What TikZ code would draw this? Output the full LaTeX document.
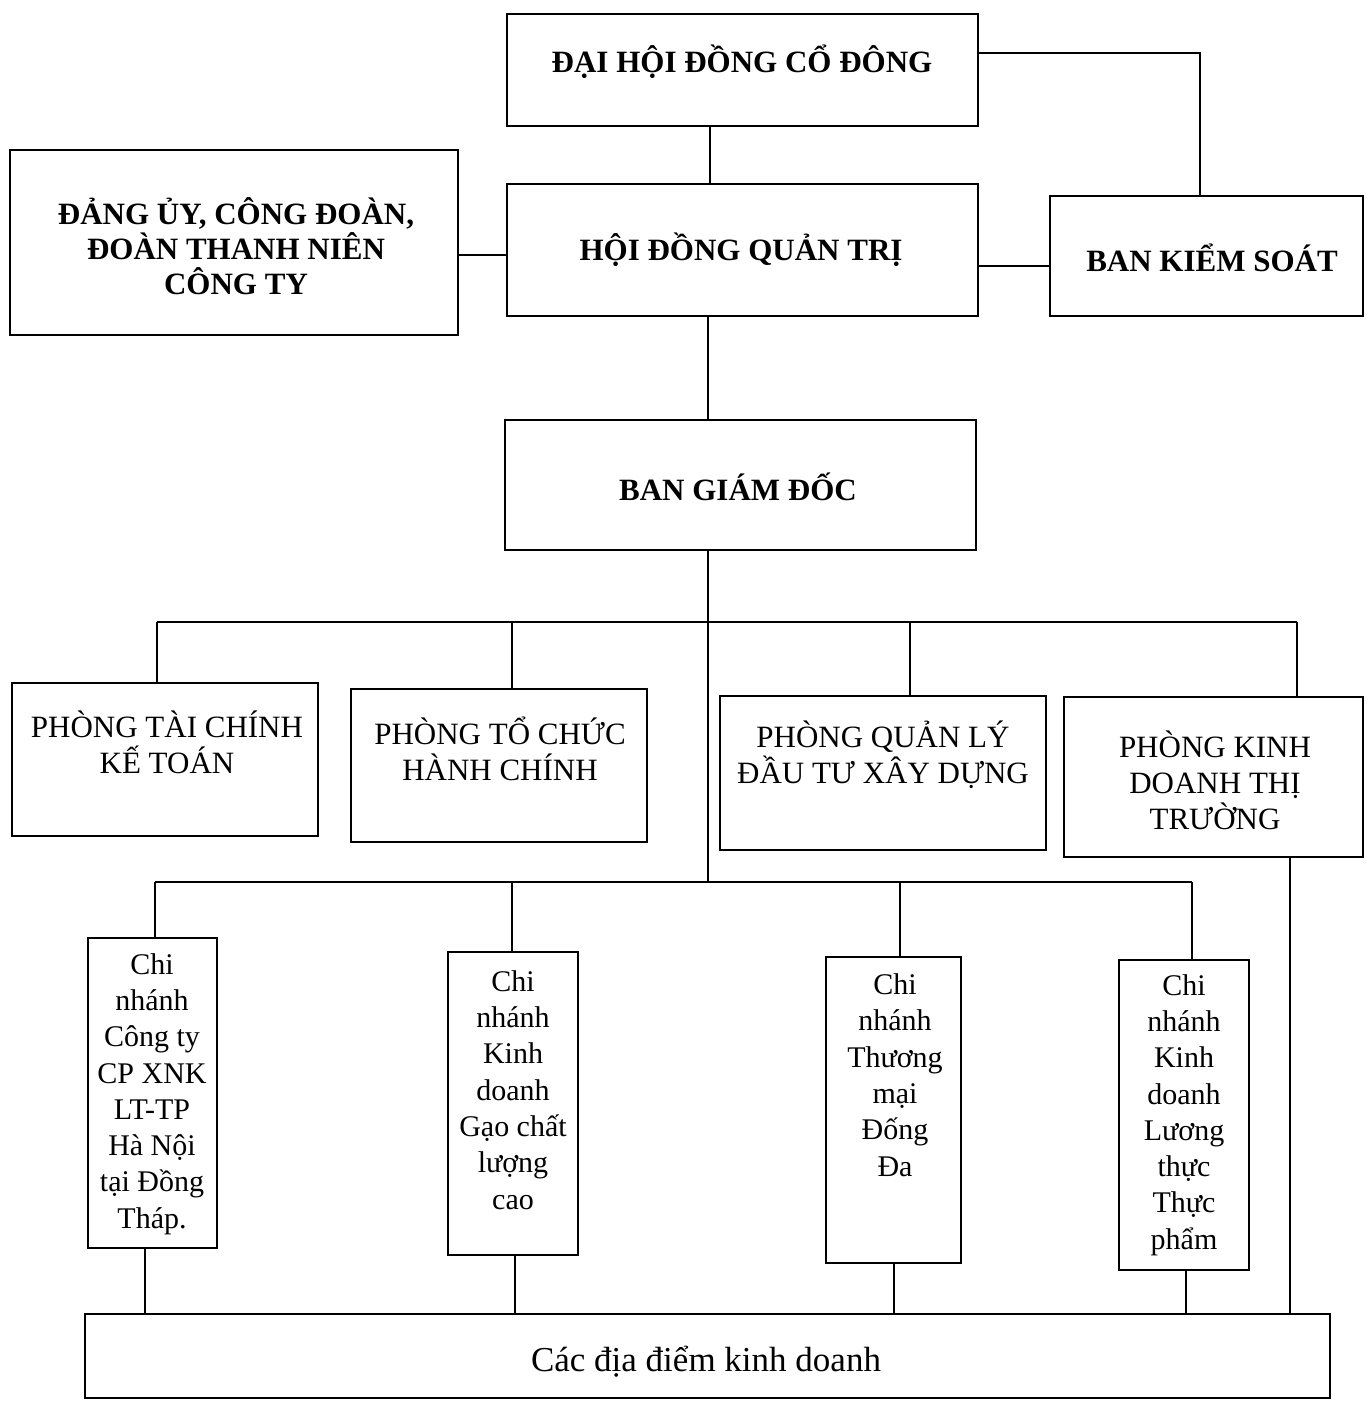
\documentclass[tikz,border=0pt]{standalone}
\usepackage{fontspec}
\setmainfont{Liberation Serif}
\begin{document}
\begin{tikzpicture}[x=1pt,y=-1pt,
  box/.style={draw, line width=1.8pt, outer sep=0pt, inner sep=0pt},
  conn/.style={line width=1.8pt},
  lbl/.style={align=center, inner sep=0pt},
  hb/.style={lbl, font=\fontsize{31}{35}\selectfont\bfseries},
  nf/.style={lbl, font=\fontsize{31}{36}\selectfont},
  cf/.style={lbl, font=\fontsize{30}{36.3}\selectfont}]
\useasboundingbox (0,0) rectangle (1366,1423);
\fill[white] (0,0) rectangle (1366,1423);
\newcommand\mkbox[5]{\node[box, minimum width={#4-#2}, minimum height={#5-#3}] (#1) at ({(#2+#4)/2},{(#3+#5)/2}) {};}
% boxes
\mkbox{dh}{507}{14}{978}{126}
\mkbox{hd}{507}{184}{978}{316}
\mkbox{dang}{10}{150}{458}{335}
\mkbox{bks}{1050}{196}{1363}{316}
\mkbox{bgd}{505}{420}{976}{550}
\mkbox{p1}{12}{683}{318}{836}
\mkbox{p2}{351}{689}{647}{842}
\mkbox{p3}{720}{696}{1046}{850}
\mkbox{p4}{1064}{697}{1363}{857}
\mkbox{c1}{88}{938}{217}{1248}
\mkbox{c2}{448}{952}{578}{1255}
\mkbox{c3}{826}{957}{961}{1263}
\mkbox{c4}{1119}{960}{1249}{1270}
\mkbox{bot}{85}{1314}{1330}{1398}
% texts
\node[hb] (dh-t) at (742,62) {ĐẠI HỘI ĐỒNG CỔ ĐÔNG};
\node[hb] (hd-t) at (741,250) {HỘI ĐỒNG QUẢN TRỊ};
\node[hb] (dang-t) at (236,246) {ĐẢNG ỦY, CÔNG ĐOÀN,\\ĐOÀN THANH NIÊN\\CÔNG TY};
\node[hb] (bks-t) at (1212,258) {BAN KIỂM SOÁT};
\node[hb] (bgd-t) at (738,487) {BAN GIÁM ĐỐC};
\node[nf] (p1-t) at (167,742) {PHÒNG TÀI CHÍNH\\KẾ TOÁN};
\node[nf] (p2-t) at (500,749) {PHÒNG TỔ CHỨC\\HÀNH CHÍNH};
\node[nf] (p3-t) at (883,755) {PHÒNG QUẢN LÝ\\ĐẦU TƯ XÂY DỰNG};
\node[nf] (p4-t) at (1215,780) {PHÒNG KINH\\DOANH THỊ\\TRƯỜNG};
\node[cf] (c1-t) at (152,1094) {Chi\\nhánh\\Công ty\\CP XNK\\LT-TP\\Hà Nội\\tại Đồng\\Tháp.};
\node[cf] (c2-t) at (513,1090) {Chi\\nhánh\\Kinh\\doanh\\Gạo chất\\lượng\\cao};
\node[cf] (c3-t) at (895,1075) {Chi\\nhánh\\Thương\\mại\\Đống\\Đa};
\node[cf] (c4-t) at (1184,1115) {Chi\\nhánh\\Kinh\\doanh\\Lương\\thực\\Thực\\phẩm};
\node[lbl, font=\fontsize{35}{40}\selectfont] (bot-t) at (706,1362) {Các địa điểm kinh doanh};
% connector helper coordinates
\coordinate (v1) at (710,0);
\coordinate (kx) at (1200,53);
\coordinate (ly) at (0,255);
\coordinate (ry) at (0,266);
\coordinate (v2) at (708,0);
\coordinate (b1) at (708,622);
\coordinate (b2) at (708,882);
\coordinate (d1) at (157,622);
\coordinate (d2) at (512,622);
\coordinate (d3) at (910,622);
\coordinate (d4) at (1297,622);
\coordinate (e1) at (155,882);
\coordinate (e2) at (512,882);
\coordinate (e3) at (900,882);
\coordinate (e4) at (1192,882);
\coordinate (f1) at (145,0);
\coordinate (f2) at (515,0);
\coordinate (f3) at (894,0);
\coordinate (f4) at (1186,0);
\coordinate (f5) at (1290,0);
% connectors
\draw[conn] (dh.south -| v1) -- (hd.north -| v1);
\draw[conn] (dh.east |- kx) -- (kx) -- (kx |- bks.north);
\draw[conn] (dang.east |- ly) -- (hd.west |- ly);
\draw[conn] (hd.east |- ry) -- (bks.west |- ry);
\draw[conn] (hd.south -| v2) -- (bgd.north -| v2);
\draw[conn] (bgd.south -| v2) -- (b2);
\draw[conn] (d1) -- (d4);
\draw[conn] (d1) -- (d1 |- p1.north);
\draw[conn] (d2) -- (d2 |- p2.north);
\draw[conn] (d3) -- (d3 |- p3.north);
\draw[conn] (d4) -- (d4 |- p4.north);
\draw[conn] (e1) -- (e4);
\draw[conn] (e1) -- (e1 |- c1.north);
\draw[conn] (e2) -- (e2 |- c2.north);
\draw[conn] (e3) -- (e3 |- c3.north);
\draw[conn] (e4) -- (e4 |- c4.north);
\draw[conn] (c1.south -| f1) -- (bot.north -| f1);
\draw[conn] (c2.south -| f2) -- (bot.north -| f2);
\draw[conn] (c3.south -| f3) -- (bot.north -| f3);
\draw[conn] (c4.south -| f4) -- (bot.north -| f4);
\draw[conn] (p4.south -| f5) -- (bot.north -| f5);
\end{tikzpicture}
\end{document}
